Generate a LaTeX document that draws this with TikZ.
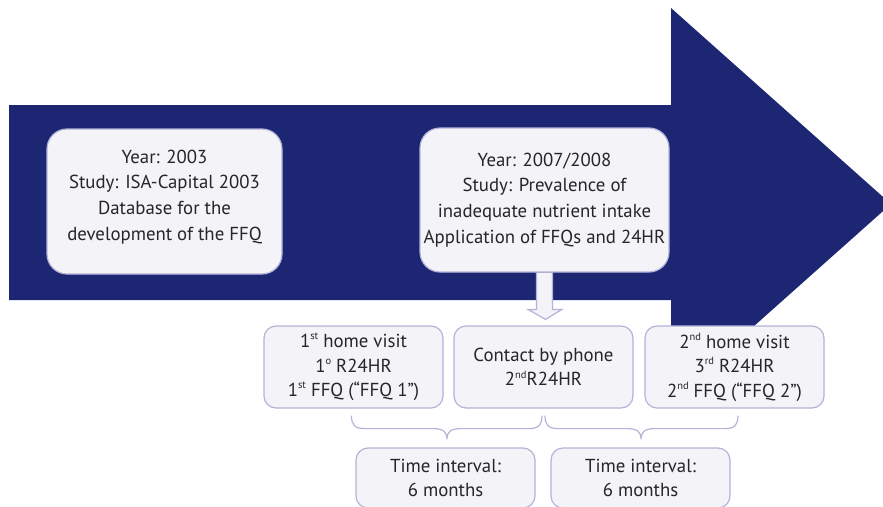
\documentclass[tikz,border=0pt]{standalone}
\usepackage{fontspec}
\setmainfont{PT Sans}
\usetikzlibrary{calc}
\definecolor{navy}{HTML}{1C2673}
\definecolor{boxfill}{HTML}{F3F3F8}
\definecolor{boxline}{HTML}{B3B3D9}
\definecolor{ink}{HTML}{262626}
\newcommand{\supx}[1]{\raisebox{0.42em}{\fontsize{10.5}{10.5}\selectfont #1}}
\tikzset{
  bigbox/.style={draw=boxline, fill=boxfill, line width=1.2pt, rounded corners=20pt,
    align=center, inner sep=0pt, text=ink, font=\fontsize{18.8}{25.8}\selectfont},
  smallbox/.style={draw=boxline, fill=boxfill, line width=1.2pt, rounded corners=12pt,
    align=center, inner sep=0pt, text=ink, font=\fontsize{18.8}{24.5}\selectfont,
    minimum width=179pt},
  bracestyle/.style={draw=boxline, line width=1.2pt},
  hollow/.style={draw=boxline, fill=boxfill, line width=1.2pt, line join=miter}
}
\begin{document}
\begin{tikzpicture}[x=1pt,y=-1pt]
\useasboundingbox (0,0) rectangle (883,506);
\clip (0,0) rectangle (883,506);
% big timeline arrow
\fill[navy] (9,105) -- (671,105) -- (671,8) -- (891,204) -- (671,400) -- (671,300) -- (9,300) -- cycle;
% top boxes
\node[bigbox, minimum width=235pt, minimum height=145pt] (y1) at (164.5,201.5) {};
\node[text=ink, align=center, inner sep=0pt, font=\fontsize{18.8}{25.8}\selectfont] (y1t) at (164.5,197)
  {Year: 2003\\Study: ISA-Capital 2003\\Database for the\\development of the FFQ};
\node[bigbox, minimum width=249pt, minimum height=144pt] (y2) at (544.5,200)
  {Year: 2007/2008\\Study: Prevalence of\\inadequate nutrient intake\\Application of FFQs and 24HR};
% bottom boxes
\node[smallbox, minimum height=82pt] (bA) at (353.5,367)
  {1\supx{st} home visit\\1\supx{o} R24HR\\1\supx{st} FFQ (“FFQ 1”)};
\node[smallbox, minimum height=82pt] (bB) at (543.5,367)
  {Contact by phone\\2\supx{nd}R24HR};
\node[smallbox, minimum height=82pt] (bC) at (734.5,367)
  {2\supx{nd} home visit\\3\supx{rd} R24HR\\2\supx{nd} FFQ (“FFQ 2”)};
\node[smallbox, minimum height=60pt] (bD) at (445.5,478)
  {Time interval:\\6 months};
\node[smallbox, minimum height=60pt] (bE) at (640.5,478)
  {Time interval:\\6 months};
% hollow arrow from y2 to bB
\coordinate (hs) at (y2.south);
\coordinate (ht) at ($(bB.north)+(2,-6)$);
\path[hollow] let \p1=(hs), \p2=(ht) in
  (\x1-8pt,\y1) -- (\x1-8pt,\y2+10pt) -- (\x1-16.5pt,\y2+10pt) -- (\x1+1pt,\y2)
  -- (\x1+17.5pt,\y2+10pt) -- (\x1+8pt,\y2+10pt) -- (\x1+8pt,\y1);
% braces
\coordinate (b1l) at ($(bA.south)+(-2,7)$);
\coordinate (b1r) at ($(bB.south)+(-1.5,7)$);
\coordinate (b1t) at ($(bD.north)+(1.5,-8)$);
\coordinate (b2l) at ($(bB.south)+(1.5,7)$);
\coordinate (b2r) at ($(bC.south)+(3.5,7)$);
\coordinate (b2t) at ($(bE.north)+(0.5,-8)$);
\foreach \L/\R/\T in {b1l/b1r/b1t, b2l/b2r/b2t}{
\draw[bracestyle] let \p1=(\L), \p2=(\R), \p3=(\T) in
  (\p1) .. controls (\x1,\y1-9pt) and (\x1+3pt,\y1-13pt) .. (\x1+13pt,\y1-13pt)
  -- (\x3-14pt,\y1-13pt) .. controls (\x3-4pt,\y1-13pt) and (\x3,\y1-16pt) .. (\p3)
  .. controls (\x3,\y1-16pt) and (\x3+4pt,\y1-13pt) .. (\x3+14pt,\y1-13pt)
  -- (\x2-13pt,\y1-13pt) .. controls (\x2-3pt,\y1-13pt) and (\x2,\y1-9pt) .. (\p2);
}
\end{tikzpicture}
\end{document}
